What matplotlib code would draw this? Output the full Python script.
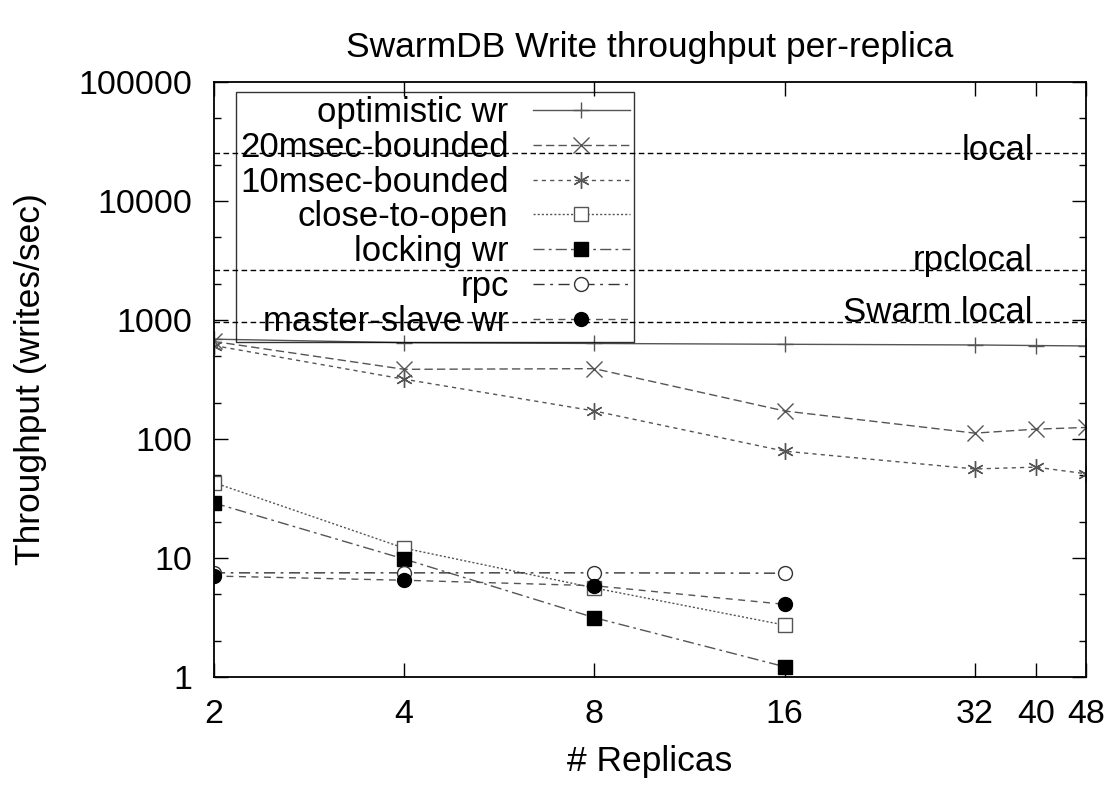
import matplotlib
matplotlib.use("Agg")
import matplotlib.pyplot as plt
from matplotlib.ticker import FixedLocator, NullLocator, NullFormatter, FuncFormatter

plt.rcParams['font.family'] = ['Liberation Sans', 'DejaVu Sans']

# data
replicas = [2, 4, 8, 16, 32, 40, 48]
replicas_small = [2, 4, 8, 16]

optimistic_wr = [690, 645, 635, 625, 617, 610, 605]
bounded_20ms = [660, 385, 390, 172, 112, 121, 125]
bounded_10ms = [610, 318, 172, 79, 56, 58, 51]
close_to_open = [43, 12.1, 5.6, 2.73]
locking_wr = [29, 9.8, 3.15, 1.22]
rpc = [7.5, 7.5, 7.5, 7.45]
master_slave_wr = [7.05, 6.5, 5.85, 4.08]

ref_names = ["local", "rpclocal", "Swarm local"]
ref_values = [25500, 2630, 970]

x_ticks = [2, 4, 8, 16, 32, 40, 48]
y_ticks = [1, 10, 100, 1000, 10000, 100000]

fig = plt.figure(figsize=(11.11, 7.87), dpi=100)
ax = fig.add_axes([0.1926, 0.1398, 0.7849, 0.756])

fs = 24.5
gray = "#555555"

ax.plot(replicas, optimistic_wr, color=gray, lw=1, ls="-", marker="+",
        ms=12, mew=1, label="optimistic wr")
ax.plot(replicas, bounded_20ms, color=gray, lw=1, ls=(0, (6, 3)), marker="x",
        ms=11, mew=1, label="20msec-bounded")
ax.plot(replicas, bounded_10ms, color=gray, lw=1, ls=(0, (3, 3)), marker=(6, 2, 0),
        ms=12, mew=1, label="10msec-bounded")
ax.plot(replicas_small, close_to_open, color=gray, lw=1, ls=(0, (1.5, 1.5)), marker="s",
        ms=10, mfc="white", mec=gray, mew=1, label="close-to-open")
ax.plot(replicas_small, locking_wr, color=gray, lw=1, ls=(0, (8, 3, 2, 3)), marker="s",
        ms=10, mfc="black", mec="black", label="locking wr")
ax.plot(replicas_small, rpc, color="#333333", lw=1, ls=(0, (8, 4, 2, 4)), marker="o",
        ms=10, mfc="white", mec="#333333", mew=1, label="rpc")
ax.plot(replicas_small, master_slave_wr, color=gray, lw=1, ls=(0, (5, 4)), marker="o",
        ms=10, mfc="black", mec="black", label="master-slave wr")

offsets = [-5, 0, 0]
for name, val, off in zip(ref_names, ref_values, offsets):
    ax.axhline(val, color="black", lw=1, ls=(0, (4, 2.5)))
    ax.annotate(name, xy=(0.939, val), xycoords=("axes fraction", "data"),
                xytext=(0, off), textcoords="offset points",
                ha="right", va="baseline", fontsize=25)

ax.set_xscale("log", base=2)
ax.set_yscale("log")
ax.set_xlim(2, 48)
ax.set_ylim(1, 100000)

ax.xaxis.set_major_locator(FixedLocator(x_ticks))
ax.xaxis.set_major_formatter(FuncFormatter(lambda v, p: "%d" % v))
ax.xaxis.set_minor_locator(NullLocator())
ax.yaxis.set_major_locator(FixedLocator(y_ticks))
ax.yaxis.set_major_formatter(FuncFormatter(lambda v, p: "%d" % v))
minor_y = [m * 10 ** e for e in range(0, 5) for m in (2, 5)]
ax.yaxis.set_minor_locator(FixedLocator(minor_y))
ax.yaxis.set_minor_formatter(NullFormatter())

ax.tick_params(which="both", direction="in", top=True, right=True, width=1)
ax.tick_params(axis="y", which="major", length=10, pad=16, labelsize=fs)
ax.tick_params(axis="y", which="minor", length=5)
ax.tick_params(axis="x", which="major", length=10, pad=16, labelsize=fs)
for s in ax.spines.values():
    s.set_linewidth(1.3)

ax.set_xlabel("# Replicas", fontsize=25.5, labelpad=11)
ax.set_ylabel("Throughput (writes/sec)", fontsize=25.5, labelpad=22)
ax.set_title("SwarmDB Write throughput per-replica", fontsize=25.5, pad=18)

leg = ax.legend(loc="upper left", bbox_to_anchor=(0.025, 0.983), markerfirst=False,
                fontsize=25, frameon=True, fancybox=False,
                edgecolor="black", handlelength=2.8, handletextpad=0.7,
                labelspacing=0.05, borderpad=0.12, borderaxespad=0)
frame = leg.get_frame()
frame.set_linewidth(1)
frame.set_facecolor("none")
frame.set_edgecolor("black")
for col in leg._legend_handle_box.get_children():
    col.align = "right"

fig.savefig("out.png", dpi=100)
